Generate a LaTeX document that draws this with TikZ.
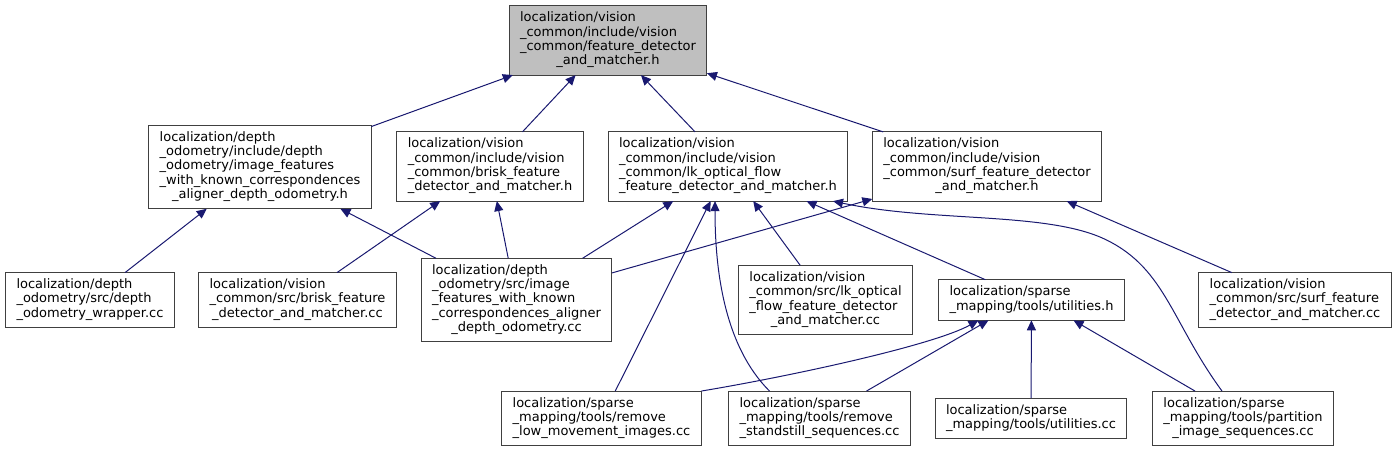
\documentclass[tikz,border=0pt]{standalone}
\usepackage{fontspec}
\setmainfont{DejaVu Sans}
\usetikzlibrary{arrows.meta}
\definecolor{depblue}{RGB}{25,25,112}
\definecolor{hdrgray}{RGB}{191,191,191}
\newcommand{\flist}[1]{\begin{tabular}{@{}l@{}}#1\end{tabular}}
\newcommand{\lastln}[1]{\multicolumn{1}{@{}c@{}}{#1}}
\begin{document}
\begin{tikzpicture}[x=1pt,y=-1pt,every node/.style={draw=black!75, fill=white, line width=1pt, inner xsep=11pt, inner ysep=6pt, outer sep=0pt, font=\fontsize{13}{14.3}\selectfont},
  dep/.style={draw=depblue, line width=1pt, -{Triangle[length=10pt,width=9pt]}}]
\useasboundingbox (0,0) rectangle (1397,452);
\node[fill=hdrgray] (top) at (608,40.5) {\flist{localization/vision\\\_common/include/vision\\\_common/feature\_detector\\\lastln{\_and\_matcher.h}}};
\node (dohdr) at (260,167) {\flist{localization/depth\\\_odometry/include/depth\\\_odometry/image\_features\\\_with\_known\_correspondences\\\lastln{\_aligner\_depth\_odometry.h}}};
\node (briskhdr) at (490,166.5) {\flist{localization/vision\\\_common/include/vision\\\_common/brisk\_feature\\\lastln{\_detector\_and\_matcher.h}}};
\node (lkhdr) at (728,166.5) {\flist{localization/vision\\\_common/include/vision\\\_common/lk\_optical\_flow\\\lastln{\_feature\_detector\_and\_matcher.h}}};
\node (surfhdr) at (987,166.5) {\flist{localization/vision\\\_common/include/vision\\\_common/surf\_feature\_detector\\\lastln{\_and\_matcher.h}}};
\node (dowrap) at (90,300) {\flist{localization/depth\\\_odometry/src/depth\\\lastln{\_odometry\_wrapper.cc}}};
\node (briskcc) at (297.5,300) {\flist{localization/vision\\\_common/src/brisk\_feature\\\lastln{\_detector\_and\_matcher.cc}}};
\node (docc) at (516.5,300) {\flist{localization/depth\\\_odometry/src/image\\\_features\_with\_known\\\_correspondences\_aligner\\\lastln{\_depth\_odometry.cc}}};
\node (lkcc) at (825.5,300) {\flist{localization/vision\\\_common/src/lk\_optical\\\_flow\_feature\_detector\\\lastln{\_and\_matcher.cc}}};
\node (utilh) at (1031.5,300) {\flist{localization/sparse\\\lastln{\_mapping/tools/utilities.h}}};
\node (surfcc) at (1295,300) {\flist{localization/vision\\\_common/src/surf\_feature\\\lastln{\_detector\_and\_matcher.cc}}};
\node (rmlow) at (601.5,418.5) {\flist{localization/sparse\\\_mapping/tools/remove\\\lastln{\_low\_movement\_images.cc}}};
\node (rmstill) at (819.5,418.5) {\flist{localization/sparse\\\_mapping/tools/remove\\\lastln{\_standstill\_sequences.cc}}};
\node (utilcc) at (1031,418.5) {\flist{localization/sparse\\\lastln{\_mapping/tools/utilities.cc}}};
\node (partcc) at (1243,418.5) {\flist{localization/sparse\\\_mapping/tools/partition\\\lastln{\_image\_sequences.cc}}};
% includes of the main header
\draw[dep] (dohdr) -- (top);
\draw[dep] (briskhdr) -- (top);
\draw[dep] (lkhdr) -- (top);
\draw[dep] (surfhdr) -- (top);
% second level
\draw[dep] (dowrap) -- (dohdr);
\draw[dep] (docc) -- (dohdr);
\draw[dep] (briskcc) -- (briskhdr);
\draw[dep] (docc) -- (briskhdr);
\draw[dep] (docc) -- (lkhdr);
\draw[dep] (docc) -- (surfhdr);
\draw[dep] (lkcc) -- (lkhdr);
\draw[dep] (utilh) -- (lkhdr);
\draw[dep] (rmlow) -- (lkhdr);
\draw[dep] ([xshift=-50pt]rmstill.north) .. controls +(-45,-45) and +(0,70) .. ([xshift=-13pt]lkhdr.south);
\draw[dep] ([xshift=-21pt]partcc.north) .. controls (1170,320) and (1165,265) .. (1100,237) .. controls (1040,212) and (930,222) .. ([xshift=105pt]lkhdr.south);
\draw[dep] (surfcc) -- (surfhdr);
% utilities header
\draw[dep] (rmlow.north east) .. controls +(90,-15) and +(-45,25) .. ([xshift=-53pt]utilh.south);
\draw[dep] ([xshift=47pt]rmstill.north) -- ([xshift=-43pt]utilh.south);
\draw[dep] (utilcc) -- (utilh);
\draw[dep] ([xshift=-48pt]partcc.north) -- ([xshift=42pt]utilh.south);
\end{tikzpicture}
\end{document}
